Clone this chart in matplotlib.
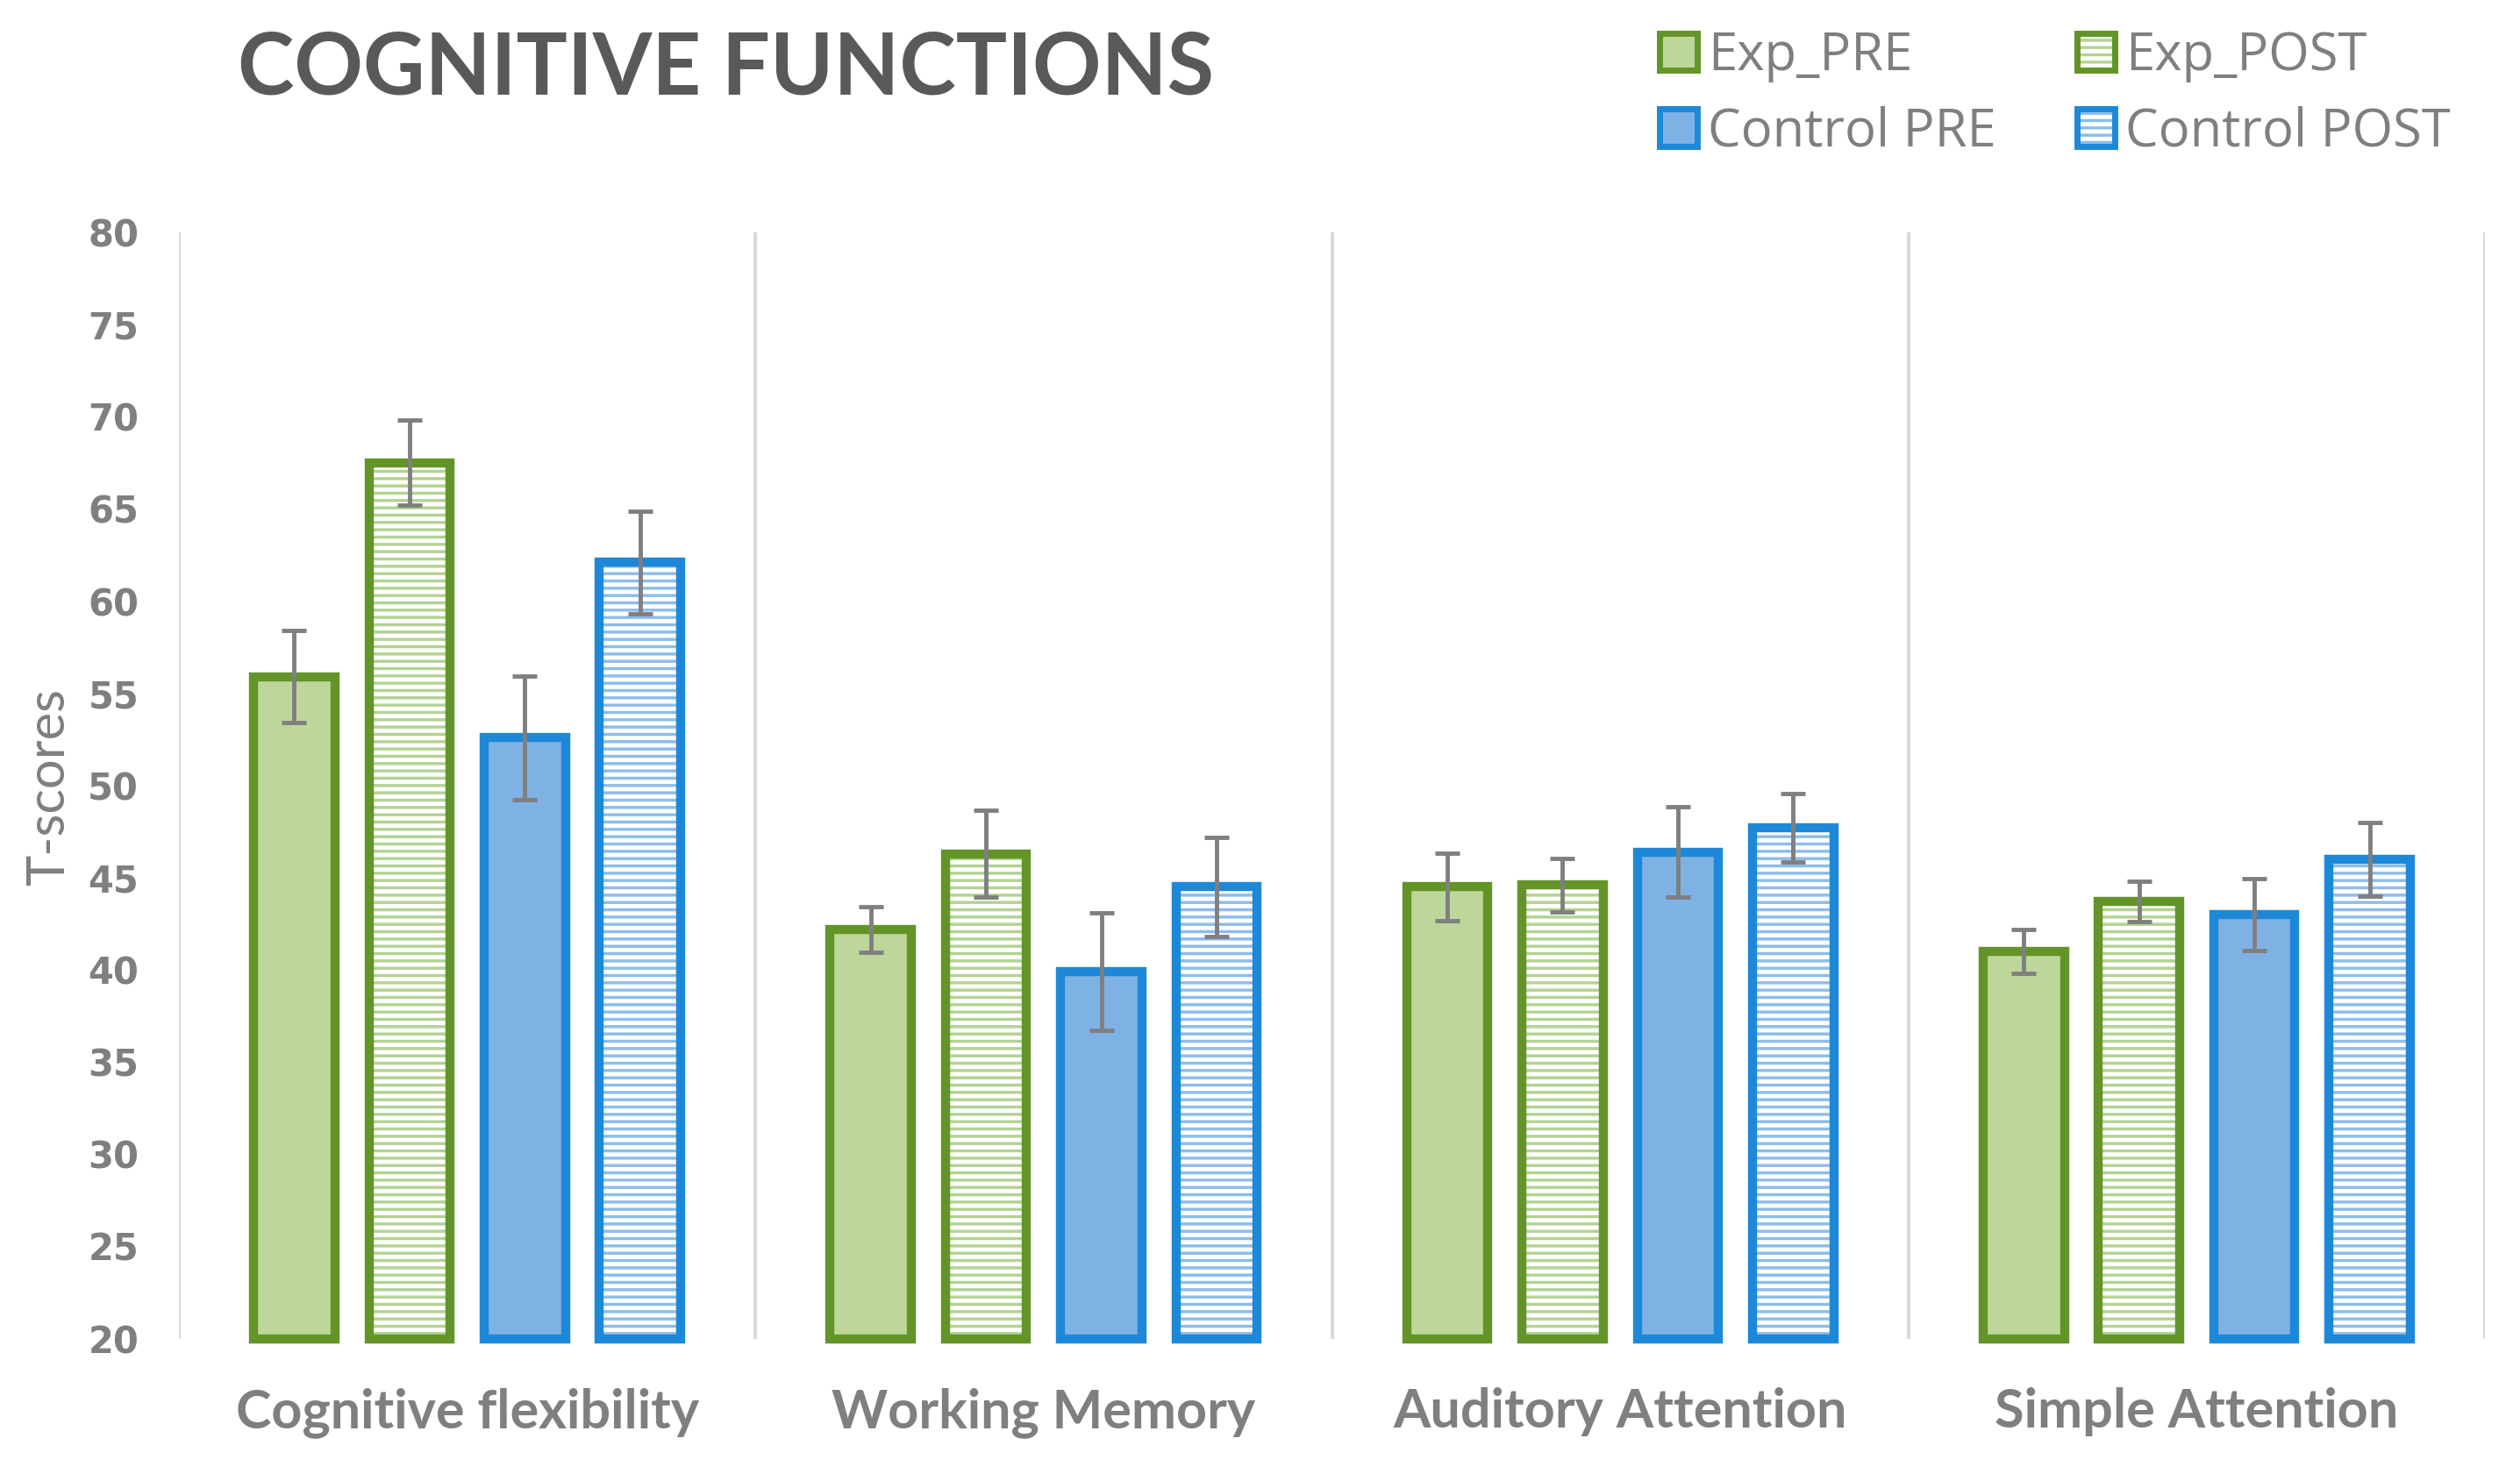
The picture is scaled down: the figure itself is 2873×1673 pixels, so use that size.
import matplotlib
matplotlib.use('Agg')
import matplotlib.pyplot as plt
import numpy as np
from matplotlib.patches import Patch
from matplotlib.legend_handler import HandlerTuple

# Data
categories = ['Cognitive flexibility', 'Working Memory', 'Auditory Attention', 'Simple Attention']
exp_pre = [55.9, 42.2, 44.5, 41.0]
exp_pre_err = [2.5, 1.25, 1.85, 1.2]
exp_post = [67.5, 46.3, 44.6, 43.7]
exp_post_err = [2.3, 2.35, 1.45, 1.1]
ctrl_pre = [52.6, 39.9, 46.4, 43.0]
ctrl_pre_err = [3.35, 3.2, 2.45, 1.95]
ctrl_post = [62.1, 44.5, 47.7, 46.0]
ctrl_post_err = [2.8, 2.7, 1.85, 2.0]
yticks = list(range(20, 81, 5))

GREEN = '#639428'
GREEN_FILL = '#BDD79B'
GREEN_HATCH = '#B3D392'
BLUE = '#1E88D8'
BLUE_FILL = '#7EB2E4'
BLUE_HATCH = '#8DBDEA'
GRAY = '#7F7F7F'

plt.rcParams['hatch.linewidth'] = 2.5

fig = plt.figure(figsize=(28.73, 16.73), dpi=100)
ax = fig.add_axes([0.0710, 0.0875, 0.9861 - 0.0710, 0.8416 - 0.0875])

x = np.arange(len(categories))
w = 0.141
base = 20
series = [
    (exp_pre, exp_pre_err, -0.3, GREEN, GREEN_FILL, False),
    (exp_post, exp_post_err, -0.1, GREEN, GREEN_HATCH, True),
    (ctrl_pre, ctrl_pre_err, 0.1, BLUE, BLUE_FILL, False),
    (ctrl_post, ctrl_post_err, 0.3, BLUE, BLUE_HATCH, True),
]

for vals, errs, off, edge, fill, hatched in series:
    heights = np.array(vals) - base
    if hatched:
        ax.bar(x + off, heights, w, bottom=base, facecolor='white',
               edgecolor=fill, hatch='--', linewidth=0, zorder=2, clip_on=False)
        ax.bar(x + off, heights, w, bottom=base, fill=False,
               edgecolor=edge, linewidth=7.5, zorder=3, clip_on=False)
    else:
        ax.bar(x + off, heights, w, bottom=base, facecolor=fill,
               edgecolor=edge, linewidth=7.5, zorder=3, clip_on=False)
    ax.errorbar(x + off, vals, yerr=errs, fmt='none', ecolor=GRAY,
                elinewidth=3.5, capsize=10, capthick=3.5, zorder=4)

ax.vlines(np.arange(-0.5, len(categories), 1), 20, 80, color='#D9D9D9', lw=3, zorder=1)

ax.set_xlim(-0.5, 3.5)
ax.set_ylim(20, 80)
ax.set_yticks(yticks)
ax.set_xticks(x)
ax.set_xticklabels(categories, family='Lato', fontweight='bold', fontsize=44, color=GRAY)
for lab in ax.get_yticklabels():
    lab.set_family('DejaVu Sans')
    lab.set_fontweight('bold')
    lab.set_fontsize(30)
    lab.set_color(GRAY)
ax.tick_params(axis='both', length=0)
ax.tick_params(axis='y', pad=33)
ax.tick_params(axis='x', pad=40)
for s in ax.spines.values():
    s.set_visible(False)

fig.text(0.0195, 0.4638, 'T-scores', rotation=90, ha='center', va='center',
         family='Lato', fontsize=43, color=GRAY)

fig.text(271 / 2873, 1 - 107 / 1673, 'COGNITIVE FUNCTIONS', ha='left', va='baseline',
         family='Lato', fontweight='bold', fontsize=70, color='#595959')

h_exp_pre = Patch(facecolor=GREEN_FILL, edgecolor=GREEN, linewidth=5)
h_ctrl_pre = Patch(facecolor=BLUE_FILL, edgecolor=BLUE, linewidth=5)
h_exp_post = (Patch(facecolor='white', edgecolor=GREEN_HATCH, hatch='--', linewidth=0),
              Patch(fill=False, edgecolor=GREEN, linewidth=5))
h_ctrl_post = (Patch(facecolor='white', edgecolor=BLUE_HATCH, hatch='--', linewidth=0),
               Patch(fill=False, edgecolor=BLUE, linewidth=5))
leg = fig.legend([h_exp_pre, h_ctrl_pre, h_exp_post, h_ctrl_post],
                 ['Exp_PRE', 'Control PRE', 'Exp_POST', 'Control POST'],
                 ncol=2, loc='upper left', bbox_to_anchor=(1838 / 2873, 1.012),
                 frameon=False, handler_map={tuple: HandlerTuple(ndivide=1, pad=0)},
                 prop={'family': 'Open Sans', 'size': 43},
                 handlelength=0.72, handleheight=0.72, handletextpad=0.2,
                 columnspacing=1.55, labelspacing=0.45)
for t in leg.get_texts():
    t.set_color(GRAY)

fig.savefig('out.png', dpi=100)
